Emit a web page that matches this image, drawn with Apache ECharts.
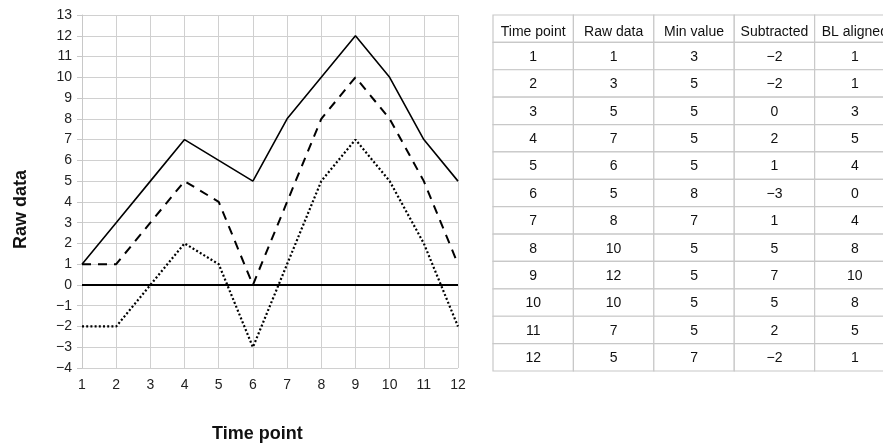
<!DOCTYPE html>
<html>
<head>
<meta charset="utf-8">
<script src="https://cdn.jsdelivr.net/npm/echarts@6/dist/echarts.min.js"></script>
<style>
  html, body { margin: 0; padding: 0; background: #fff; }
  #main { width: 883px; height: 445px; }
</style>
</head>
<body>
<div id="main"></div>
<script>
// data
const timePoints = ['1', '2', '3', '4', '5', '6', '7', '8', '9', '10', '11', '12']
const rawData = [1, 3, 5, 7, 6, 5, 8, 10, 12, 10, 7, 5]
const minValue = [3, 5, 5, 5, 5, 8, 7, 5, 5, 5, 5, 7]
const subtracted = [-2, -2, 0, 2, 1, -3, 1, 5, 7, 5, 2, -2]
const blAligned = [1, 1, 3, 5, 4, 0, 4, 8, 10, 8, 5, 1]
const tableHeaders = ['Time point', 'Raw data', 'Min value', 'Subtracted', 'BL aligned']

const FONT = 'Liberation Sans, Arial, sans-serif'

function minus(v) {
	return String(v).replace('-', '\u2212')
}

// table columns
const tableCols = [timePoints, rawData, minValue, subtracted, blAligned]
const rowNames = ['h'].concat(timePoints)
const cells = []
for (let r = 0; r < rowNames.length; r++) {
	for (let c = 0; c < tableHeaders.length; c++) {
		cells.push([c, r])
	}
}

function cellText(c, r) {
	if (r === 0) return tableHeaders[c]
	return minus(tableCols[c][r - 1])
}

var myChart = echarts.init(document.getElementById('main'))

var option = {
	animation: false,
	grid: [{
		left: 82,
		top: 15,
		width: 376,
		height: 353
	}, {
		left: 493,
		top: 15,
		right: 0,
		height: 356
	}],
	xAxis: [{
		type: 'category',
		gridIndex: 0,
		data: timePoints,
		boundaryGap: false,
		axisLine: { lineStyle: { color: '#c8c8c8' } },
		axisTick: { show: true, length: 5, lineStyle: { color: '#c8c8c8' } },
		axisLabel: { color: '#222', fontSize: 14, fontFamily: FONT, margin: 10 },
		splitLine: { show: true, lineStyle: { color: '#d0d0d0', width: 1 } }
	}, {
		// the last column runs past the right edge of the picture
		type: 'value',
		gridIndex: 1,
		min: -0.5,
		max: 4.35,
		show: false
	}],
	yAxis: [{
		type: 'value',
		gridIndex: 0,
		min: -4,
		max: 13,
		interval: 1,
		axisLine: { show: true, lineStyle: { color: '#c8c8c8' } },
		axisTick: { show: true, length: 5, lineStyle: { color: '#c8c8c8' } },
		axisLabel: { color: '#222', fontSize: 14, fontFamily: FONT, margin: 10, formatter: minus },
		splitLine: { show: true, lineStyle: { color: '#d0d0d0', width: 1 } }
	}, {
		type: 'category',
		gridIndex: 1,
		data: rowNames,
		inverse: true,
		show: false
	}],
	graphic: [{
		type: 'text',
		left: 12,
		top: 170,
		rotation: Math.PI / 2,
		style: {
			text: 'Raw data',
			font: 'bold 18px ' + FONT,
			fill: '#111'
		}
	}, {
		type: 'text',
		left: 212,
		top: 425,
		style: {
			text: 'Time point',
			font: 'bold 18px ' + FONT,
			fill: '#111'
		}
	}],
	series: [{
		name: 'Raw data',
		type: 'line',
		data: rawData,
		symbol: 'none',
		lineStyle: { color: '#000', width: 1.6, type: 'solid' },
		markLine: {
			silent: true,
			symbol: 'none',
			label: { show: false },
			lineStyle: { color: '#000', width: 2, type: 'solid' },
			data: [{ yAxis: 0 }]
		}
	}, {
		name: 'BL aligned',
		type: 'line',
		data: blAligned,
		symbol: 'none',
		lineStyle: { color: '#000', width: 2, type: [9, 7] }
	}, {
		name: 'Subtracted',
		type: 'line',
		data: subtracted,
		symbol: 'none',
		lineStyle: { color: '#000', width: 2.2, type: [2, 2.2] }
	}, {
		// the table on the right
		type: 'custom',
		xAxisIndex: 1,
		yAxisIndex: 1,
		data: cells,
		clip: false,
		renderItem: function(params, api) {
			var c = api.value(0)
			var r = api.value(1)
			var p = api.coord([c, r])
			var s = api.size([1, 1])
			return {
				type: 'group',
				children: [{
					type: 'rect',
					shape: { x: p[0] - s[0] / 2, y: p[1] - s[1] / 2, width: s[0], height: s[1] },
					style: { fill: '#fff', stroke: '#c8c8c8', lineWidth: 1.2 }
				}, {
					type: 'text',
					x: p[0],
					y: p[1] + (r === 0 ? 3 : 1),
					style: {
						text: cellText(c, r),
						font: '14px ' + FONT,
						fill: '#111',
						align: 'center',
						verticalAlign: 'middle'
					}
				}]
			}
		}
	}]
}

myChart.setOption(option)
</script>
</body>
</html>
